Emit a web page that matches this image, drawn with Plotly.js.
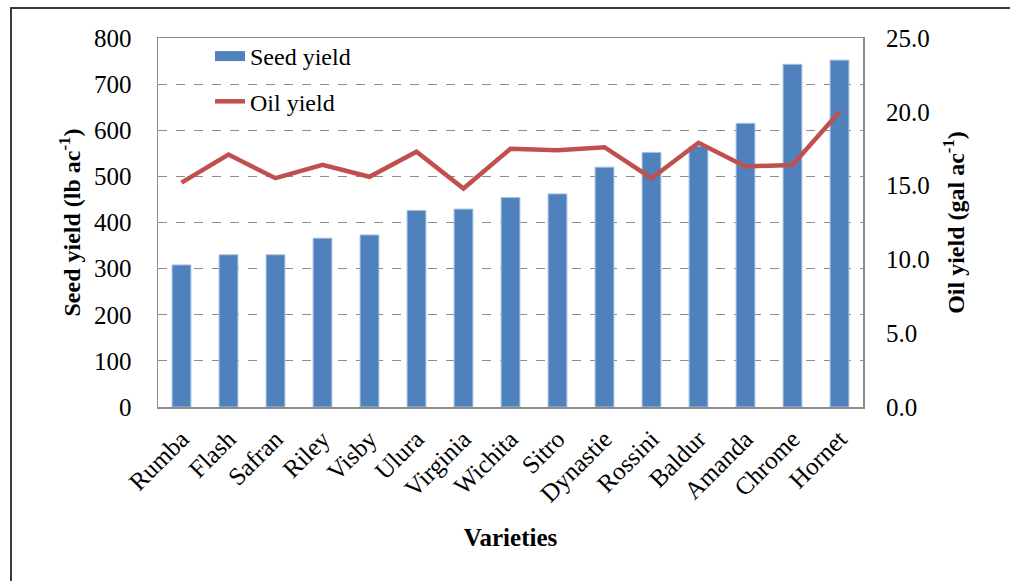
<!DOCTYPE html>
<html>
<head>
<meta charset="utf-8">
<script src="https://cdn.plot.ly/plotly-3.0.1.min.js"></script>
<style>
html,body{margin:0;padding:0;background:#fff;}
#chart{width:1010px;height:581px;}
</style>
</head>
<body>
<div id="chart"></div>
<script>
var varieties = ["Rumba","Flash","Safran","Riley","Visby","Ulura","Virginia","Wichita","Sitro","Dynastie","Rossini","Baldur","Amanda","Chrome","Hornet"];
var seedYield = [308,330,330,366,373,426,429,454,462,520,552,565,615,743,752];
var oilYield = [15.2,17.1,15.5,16.4,15.6,17.3,14.8,17.5,17.4,17.6,15.5,17.9,16.3,16.4,20.0];
var leftTicks = [0,100,200,300,400,500,600,700,800];
var rightTicks = [0,5,10,15,20,25];
var rightTickText = ["0.0","5.0","10.0","15.0","20.0","25.0"];

var FONT = "Liberation Serif";

var traces = [
  {
    type: "bar",
    name: "Seed yield",
    x: varieties,
    y: seedYield,
    marker: {color: "#4F81BD", line: {color: "#A7BFDE", width: 1}},
    showlegend: false,
    yaxis: "y"
  },
  {
    type: "scatter",
    mode: "lines",
    name: "Seed yield",
    x: [null],
    y: [null],
    line: {color: "#4F81BD", width: 13},
    legendgroup: "a",
    hoverinfo: "skip",
    yaxis: "y"
  },
  {
    type: "scatter",
    mode: "lines",
    name: "Oil yield",
    x: varieties,
    y: oilYield,
    line: {color: "#C0504D", width: 4.5},
    legendgroup: "b",
    yaxis: "y2"
  }
];

var L = 158, R = 863, T = 38, B = 407, W = 1010, H = 581;
function px(x){ return (x - L) / (R - L); }
function py(y){ return (B - y) / (B - T); }

var layout = {
  width: W, height: H,
  margin: {l: L, r: W - R, t: T, b: H - B, pad: 0},
  paper_bgcolor: "#fff",
  plot_bgcolor: "#fff",
  font: {family: FONT, size: 24, color: "#000"},
  showlegend: true,
  legend: {
    x: px(210), y: py(34), xanchor: "left", yanchor: "top",
    bgcolor: "rgba(0,0,0,0)",
    font: {family: FONT, size: 24, color: "#000"},
    tracegroupgap: 11,
    traceorder: "grouped",
    itemwidth: 30
  },
  bargap: 0.6,
  xaxis: {
    type: "category",
    range: [-0.5, 14.5],
    tickangle: -45,
    showgrid: false,
    zeroline: false,
    showline: true, mirror: true,
    linecolor: "#8C8C8C", linewidth: 1.5,
    ticks: "",
    ticklabelstandoff: 6,
    tickfont: {family: FONT, size: 25, color: "#000"},
    title: {text: "<b>Varieties</b>", font: {family: FONT, size: 25, color: "#000"}, standoff: 22}
  },
  yaxis: {
    range: [0, 800],
    tickvals: leftTicks,
    showgrid: true,
    gridcolor: "#8C8C8C", gridwidth: 1, griddash: "dash",
    zeroline: false,
    showline: true, mirror: true,
    linecolor: "#8C8C8C", linewidth: 1.5,
    ticks: "",
    ticklabelstandoff: 20,
    tickfont: {family: FONT, size: 25, color: "#000"},
    title: {text: "<b>Seed yield (lb ac<sup>-1</sup>)</b>", font: {family: FONT, size: 24, color: "#000"}, standoff: 6}
  },
  yaxis2: {
    overlaying: "y",
    side: "right",
    range: [0, 25],
    tickvals: rightTicks,
    ticktext: rightTickText,
    showgrid: false,
    zeroline: false,
    showline: false,
    ticks: "",
    ticklabelstandoff: 22,
    tickfont: {family: FONT, size: 25, color: "#000"},
    title: {text: "<b>Oil yield (gal ac<sup>-1</sup>)</b>", font: {family: FONT, size: 24, color: "#000"}, standoff: 18}
  },
  shapes: [
    {
      type: "path", xref: "paper", yref: "paper",
      path: "M " + px(11) + " " + py(600) + " L " + px(11) + " " + py(8) + " L " + px(1020) + " " + py(8),
      line: {color: "#3A3A3A", width: 2}
    }
  ]
};

Plotly.newPlot("chart", traces, layout, {displayModeBar: false, staticPlot: true});
</script>
</body>
</html>
